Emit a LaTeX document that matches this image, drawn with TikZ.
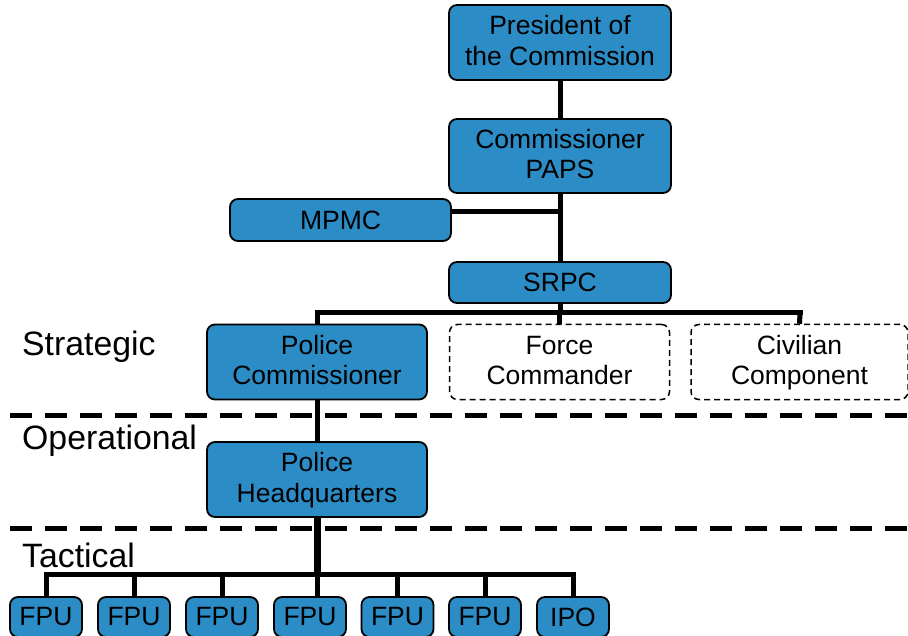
\documentclass[tikz,border=0pt]{standalone}
\usepackage{fontspec}
\setmainfont{Liberation Sans}
\definecolor{boxblue}{RGB}{43,140,198}
\newcommand{\topstr}{\rule{0pt}{21pt}}
\newcommand{\botstr}{\rule[-6pt]{0pt}{6pt}}
\begin{document}
\begin{tikzpicture}[x=1pt,y=-1pt,
  orgbox/.style={draw=black, line width=1.8pt, fill=boxblue, rounded corners=8pt,
    inner sep=0pt, align=center, font=\fontsize{26.5}{30.5}\selectfont},
  ghostbox/.style={draw=black, line width=1.5pt, dash pattern=on 6pt off 4pt, fill=white,
    rounded corners=8pt, inner sep=0pt, align=center, font=\fontsize{26.5}{30.5}\selectfont},
  conn/.style={line width=5pt},
  sep/.style={line width=5pt, dash pattern=on 22pt off 13pt},
  lvl/.style={anchor=west, inner sep=0pt, font=\fontsize{33.8}{38}\selectfont}]
\useasboundingbox (0,0) rectangle (908,636);
\clip (0,0) rectangle (908,636);
\fill[white] (0,0) rectangle (908,636);

% level separators
\draw[sep] (10,415) -- (908,415);
\draw[sep] (10,528) -- (908,528);

% junction coordinates
\coordinate (b1) at (560,313);
\coordinate (b2) at (317,574);
\coordinate (mj) at (451,212);
\coordinate (pcx) at (317,313);
\coordinate (ccx) at (800,313);

% nodes
\node[orgbox, minimum width=222pt, minimum height=75pt] (pres) at (560,42.5) {\topstr President of\\the Commission\botstr};
\node[orgbox, minimum width=222pt, minimum height=74pt] (paps) at (560,156) {\topstr Commissioner\\PAPS\botstr};
\node[orgbox, minimum width=221pt, minimum height=42pt] (mpmc) at (340.5,220) {MPMC};
\node[orgbox, minimum width=222pt, minimum height=41pt] (srpc) at (560,282.5) {SRPC};
\node[orgbox, minimum width=220pt, minimum height=75pt] (pc) at (317,362) {\topstr Police\\Commissioner\botstr};
\node[ghostbox, minimum width=220pt, minimum height=75pt] (fc) at (559.5,362) {\topstr Force\\Commander\botstr};
\node[ghostbox, minimum width=217pt, minimum height=75pt] (cc) at (799.5,362) {\topstr Civilian\\Component\botstr};
\node[orgbox, minimum width=220pt, minimum height=75pt] (phq) at (317,479.5) {\topstr Police\\Headquarters\botstr};

\foreach \n/\x/\t in {f1/46/FPU, f2/134/FPU, f3/222/FPU, f4/310/FPU, f5/397.5/FPU, f6/485/FPU, f7/573/IPO}
  \node[orgbox, minimum width=72pt, minimum height=40pt] (\n) at (\x,617) {\t};

% level labels
\node[lvl] (lstr) at (22,347) {Strategic};
\node[lvl] (lop) at (22,441) {Operational};
\node[lvl] (ltac) at (22,555) {Tactical};

% connectors
\draw[conn] (pres.south) -- (paps.north);
\draw[conn] (paps.south) -- (srpc.north);
\draw[conn] (mpmc.east |- mj) -- (paps.south |- mj);
\draw[conn] (srpc.south) -- (b1);
\draw[conn, line cap=rect] (pcx) -- (ccx);
\draw[conn] (pcx) -- (pc.north);
\draw[conn] (fc.north |- b1) -- (fc.north);
\draw[conn] (ccx) -- (cc.north);
\draw[conn] (pc.south) -- (phq.north);
\draw[line width=7pt] (phq.south) -- (b2);
\draw[conn, line cap=rect] (f1.north |- b2) -- (f7.north |- b2);
\foreach \n in {f1,f2,f3,f5,f6,f7}
  \draw[conn] (\n.north |- b2) -- (\n.north);
\draw[conn] (b2) -- (b2 |- f4.north);
\end{tikzpicture}
\end{document}
